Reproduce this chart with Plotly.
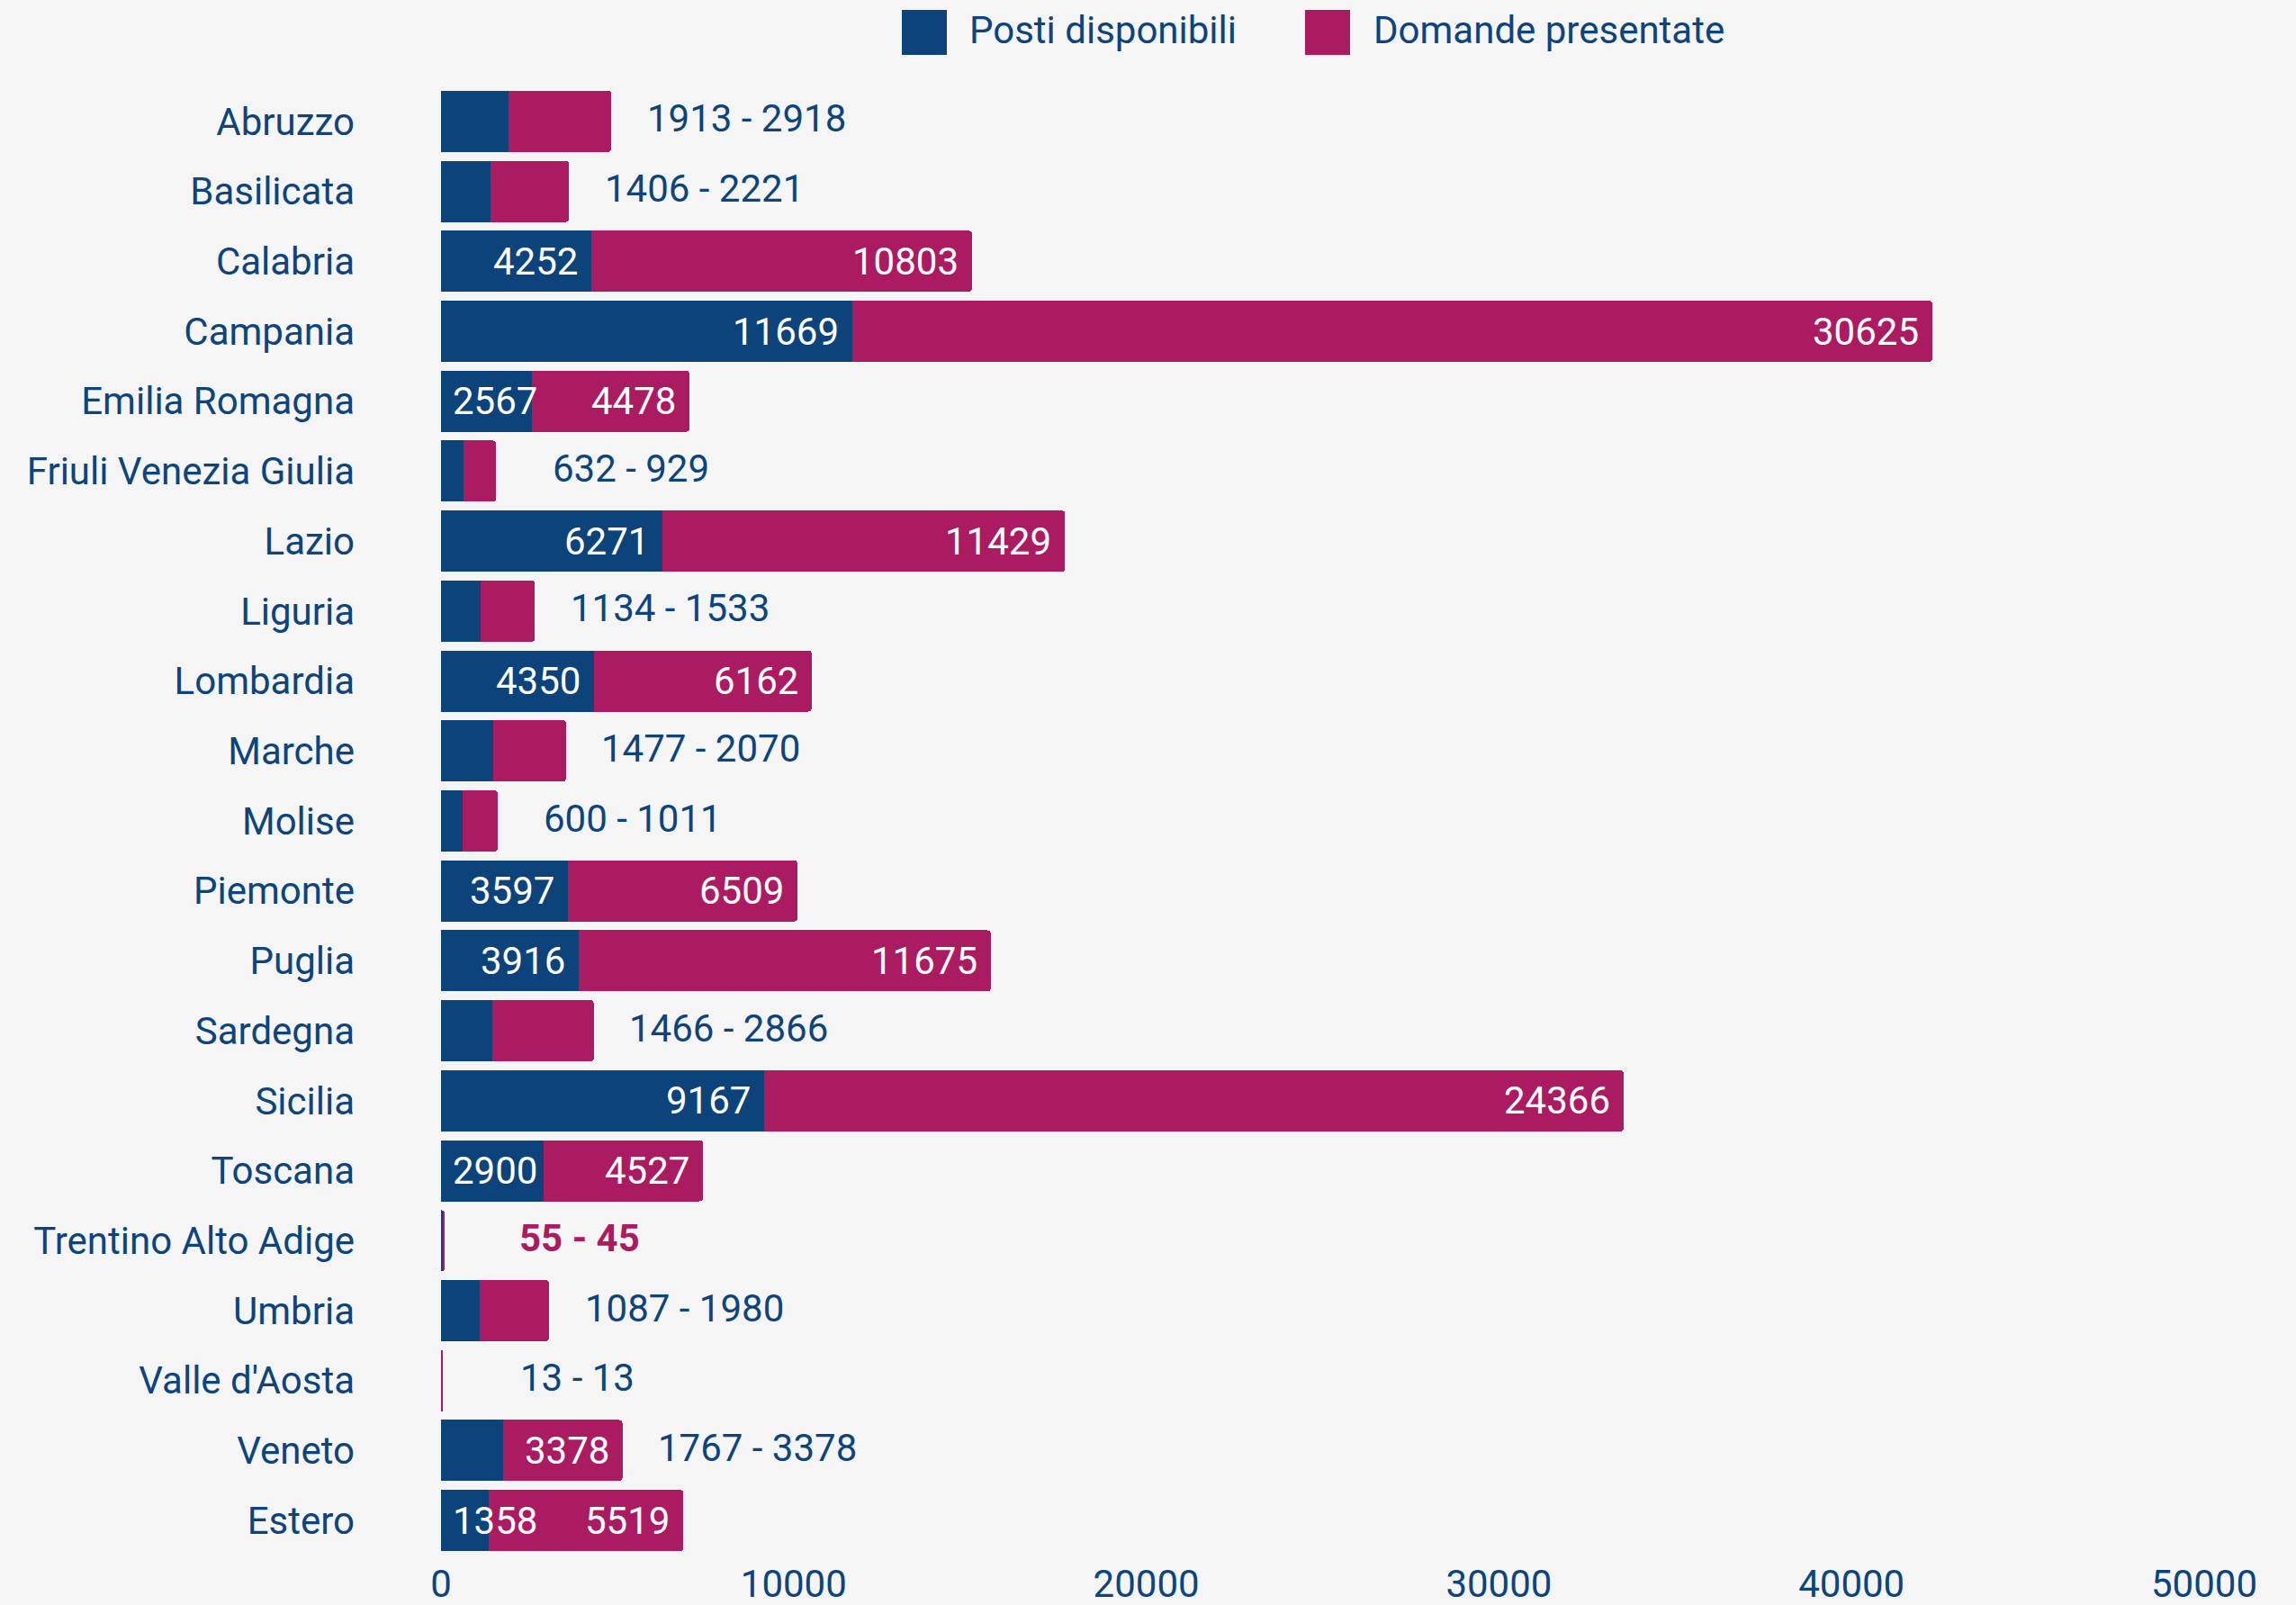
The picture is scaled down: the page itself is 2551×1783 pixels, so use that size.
import plotly.graph_objects as go

# ---------------- data ----------------
regions = ["Abruzzo", "Basilicata", "Calabria", "Campania", "Emilia Romagna",
           "Friuli Venezia Giulia", "Lazio", "Liguria", "Lombardia", "Marche",
           "Molise", "Piemonte", "Puglia", "Sardegna", "Sicilia", "Toscana",
           "Trentino Alto Adige", "Umbria", "Valle d'Aosta", "Veneto", "Estero"]
posti = [1913, 1406, 4252, 11669, 2567, 632, 6271, 1134, 4350, 1477, 600,
         3597, 3916, 1466, 9167, 2900, 55, 1087, 13, 1767, 1358]
domande = [2918, 2221, 10803, 30625, 4478, 929, 11429, 1533, 6162, 2070, 1011,
           6509, 11675, 2866, 24366, 4527, 45, 1980, 13, 3378, 5519]
x_ticks = [0, 10000, 20000, 30000, 40000, 50000]
series_names = ["Posti disponibili", "Domande presentate"]

# ---------------- style ----------------
W, H = 2551, 1783
ML, MR, MT, MB = 490, 102, 96, 55
BLUE = "#0b437a"
MAGENTA = "#ab1b62"
TEXT = "#0d447c"
BG = "#f5f5f5"
FONT = "Roboto"
FS = 42
XMAX = 50000
px_per_unit = (W - ML - MR) / XMAX
digit_w = 0.5615 * FS
PAD = 13

fig = go.Figure()
fig.add_trace(go.Bar(y=regions, x=posti, orientation="h", name=series_names[0],
                     marker=dict(color=BLUE, line=dict(width=0)), showlegend=False,
                     hoverinfo="x+y"))
fig.add_trace(go.Bar(y=regions, x=domande, orientation="h", name=series_names[1],
                     marker=dict(color=MAGENTA, line=dict(width=0)), showlegend=False,
                     hoverinfo="x+y"))

annotations = []
for r, p, d in zip(regions, posti, domande):
    total = p + d
    small = total < 6000
    if p >= 3000 or not small:
        tw = len(str(p)) * digit_w
        if p * px_per_unit >= tw + 2 * PAD:
            annotations.append(dict(x=p, y=r, text=str(p), xanchor="right", xshift=-PAD,
                                    showarrow=False, font=dict(color="white", size=FS, family=FONT)))
        else:
            annotations.append(dict(x=0, y=r, text=str(p), xanchor="left", xshift=11,
                                    showarrow=False, font=dict(color="white", size=FS, family=FONT)))
    if d >= 3000 or not small:
        annotations.append(dict(x=total, y=r, text=str(d), xanchor="right", xshift=-PAD,
                                showarrow=False, font=dict(color="white", size=FS, family=FONT)))
    if small:
        anomalous = p > d
        txt = f"{p} - {d}"
        if anomalous:
            txt = f"<b>{txt}</b>"
        annotations.append(dict(x=total, y=r, text=txt, xanchor="center", xshift=150,
                                yshift=3, showarrow=False,
                                font=dict(color=MAGENTA if anomalous else TEXT, size=FS, family=FONT)))

# custom legend (large squares)
pw = W - ML - MR
ph = H - MT - MB
def px2paper_x(px):
    return (px - ML) / pw
def px2paper_y(py):
    return (H - MB - py) / ph

shapes = []
legend_items = [(series_names[0], BLUE, 1002, 1075), (series_names[1], MAGENTA, 1450, 1524)]
for name, col, sq_x, tx in legend_items:
    shapes.append(dict(type="rect", xref="paper", yref="paper",
                       x0=px2paper_x(sq_x), x1=px2paper_x(sq_x + 50),
                       y0=px2paper_y(61), y1=px2paper_y(11),
                       fillcolor=col, line=dict(width=0)))
    annotations.append(dict(xref="paper", yref="paper", x=px2paper_x(tx), y=px2paper_y(34),
                            text=name, xanchor="left", yanchor="middle", showarrow=False,
                            font=dict(color=TEXT, size=FS, family=FONT)))

fig.update_layout(
    width=W, height=H,
    margin=dict(l=ML, r=MR, t=MT, b=MB, autoexpand=False),
    barmode="stack", bargap=0.125, barcornerradius=4,
    paper_bgcolor=BG, plot_bgcolor=BG,
    font=dict(family=FONT, size=FS, color=TEXT),
    annotations=annotations, shapes=shapes,
    showlegend=False,
)
fig.update_xaxes(range=[0, XMAX], tickvals=x_ticks, ticktext=[str(v) for v in x_ticks],
                 showgrid=False, zeroline=False, showline=False, ticks="",
                 tickfont=dict(size=FS, color=TEXT, family=FONT), automargin=False,
                 ticklabelstandoff=3)
fig.update_yaxes(autorange="reversed", showgrid=False, zeroline=False, showline=False,
                 ticks="", tickfont=dict(size=FS, color=TEXT, family=FONT), automargin=False,
                 ticklabelstandoff=95)

fig.write_html("out.html", config={"displayModeBar": False},
               post_script="document.body.style.margin='0';document.body.style.padding='0';"
                           "document.body.style.background='#f5f5f5';"
                           "document.documentElement.style.overflow='hidden';")
